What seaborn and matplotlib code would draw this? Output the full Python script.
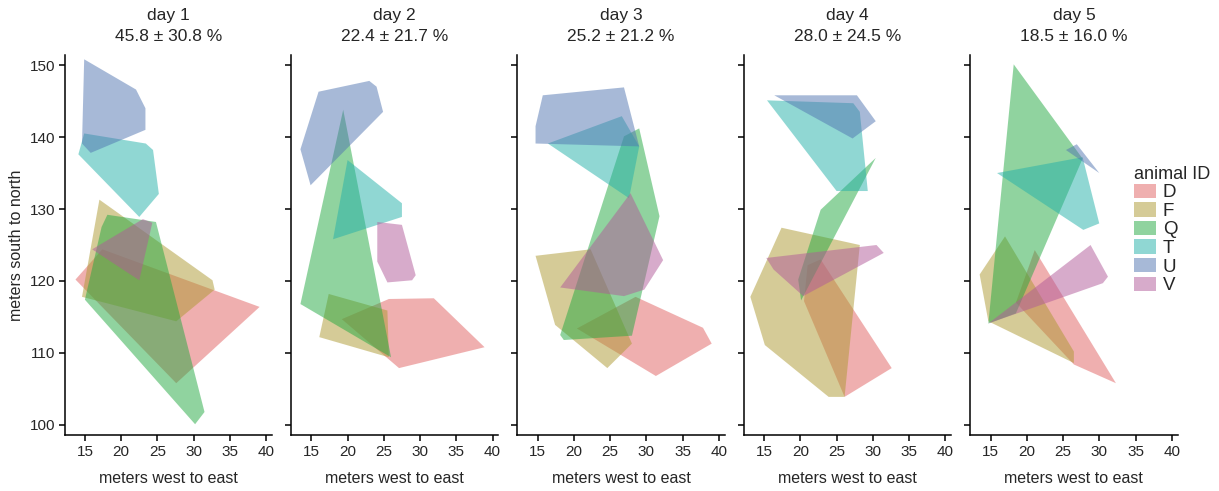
"""Home-range polygons per animal, one panel per tracking day."""
import matplotlib
matplotlib.use("Agg")
import matplotlib.pyplot as plt
import pandas as pd
import seaborn as sns

animals = ["D", "F", "Q", "T", "U", "V"]
colors = ["#e16161", "#ad9931", "#23a941", "#23b1a9", "#5175b1", "#b15999"]

days = [1, 2, 3, 4, 5]
day_mean = [45.8, 22.4, 25.2, 28.0, 18.5]
day_sd = [30.8, 21.7, 21.2, 24.5, 16.0]

# hull vertices (x = meters west to east, y = meters south to north)
day1 = {
    "D": [(13.7, 120.2), (17.4, 124.4), (39.1, 116.4), (27.6, 105.8)],
    "F": [(17.0, 131.3), (32.6, 120.1), (32.9, 118.8), (27.6, 114.4), (14.6, 117.8)],
    "Q": [(17.3, 127.5), (18.1, 129.2), (24.8, 128.2), (31.5, 101.8), (30.2, 100.1), (15.0, 117.4)],
    "T": [(14.1, 137.6), (14.9, 140.5), (23.4, 139.1), (24.4, 138.2), (25.2, 132.1), (22.5, 128.9)],
    "U": [(14.6, 139.1), (14.9, 150.8), (22.05, 146.6), (23.35, 144.0), (23.35, 141.0), (15.8, 137.8)],
    "V": [(16.0, 124.4), (23.0, 128.6), (24.3, 128.1), (22.5, 120.1)],
}
day2 = {
    "D": [(19.2, 114.7), (25.7, 117.5), (31.9, 117.6), (38.9, 110.8), (27.1, 107.9)],
    "F": [(17.4, 118.2), (25.5, 115.9), (25.7, 109.4), (16.1, 112.2)],
    "Q": [(19.4, 143.8), (26.0, 109.4), (13.5, 116.8)],
    "T": [(20.0, 136.8), (27.5, 130.8), (27.5, 128.9), (18.0, 125.8)],
    "U": [(13.5, 138.3), (16.0, 146.3), (23.0, 147.8), (24.0, 147.0), (24.9, 143.5), (14.9, 133.3)],
    "V": [(24.1, 128.2), (27.5, 127.8), (29.4, 120.8), (28.9, 120.1), (25.5, 119.8), (24.1, 122.7)],
}
day3 = {
    "D": [(20.4, 113.4), (28.5, 117.8), (37.8, 113.5), (39.0, 111.3), (31.3, 106.8)],
    "F": [(14.7, 123.5), (22.3, 124.4), (28.0, 111.3), (24.6, 107.9), (17.4, 113.9)],
    "Q": [(18.1, 112.5), (18.6, 111.8), (28.0, 112.4), (31.8, 129.0), (29.0, 141.2), (26.9, 140.1)],
    "T": [(16.4, 139.1), (26.6, 142.9), (29.0, 138.7), (27.6, 131.5)],
    "U": [(14.7, 139.1), (14.7, 141.5), (15.7, 145.8), (26.9, 146.9), (29.0, 138.7)],
    "V": [(18.1, 119.1), (27.8, 132.2), (32.3, 122.9), (29.7, 118.8), (26.9, 117.9)],
}
day4 = {
    "D": [(20.5, 117.2), (21.0, 122.2), (22.8, 123.0), (32.6, 107.9), (26.1, 103.9)],
    "F": [(13.1, 117.8), (17.4, 127.4), (28.2, 125.0), (26.1, 103.9), (23.9, 103.9), (15.1, 111.1)],
    "Q": [(30.4, 137.1), (22.8, 129.9), (19.7, 120.2), (20.1, 117.3)],
    "T": [(15.4, 145.1), (27.3, 144.7), (28.2, 143.5), (29.3, 132.5), (25.0, 132.5)],
    "U": [(16.4, 145.8), (27.8, 145.8), (30.4, 142.2), (27.2, 139.8)],
    "V": [(15.3, 123.2), (30.5, 125.0), (31.5, 123.9), (20.4, 117.9), (16.3, 121.6)],
}
day5 = {
    "D": [(21.1, 124.3), (32.3, 105.8), (26.5, 108.4), (18.5, 117.0)],
    "F": [(13.5, 120.9), (17.0, 126.2), (26.5, 110.2), (26.5, 108.6), (14.7, 114.4)],
    "Q": [(18.2, 150.1), (27.7, 137.0), (18.5, 115.5), (14.7, 114.1)],
    "T": [(15.9, 135.0), (27.7, 137.2), (30.0, 128.0), (27.8, 127.1)],
    "U": [(25.4, 138.2), (26.9, 139.0), (30.0, 135.0)],
    "V": [(14.7, 114.1), (28.8, 125.0), (31.2, 120.6), (30.5, 119.7)],
}

rows = []
for day, hulls in zip(days, [day1, day2, day3, day4, day5]):
    for animal, verts in hulls.items():
        for x, y in verts:
            rows.append({"day": day, "animal": animal, "x": x, "y": y})
df = pd.DataFrame(rows)

sns.set_style("ticks")
plt.rcParams["font.family"] = ["Liberation Sans", "DejaVu Sans"]
plt.rcParams["xtick.labelsize"] = 11
plt.rcParams["ytick.labelsize"] = 11
plt.rcParams["axes.labelsize"] = 11.5
plt.rcParams["axes.edgecolor"] = "black"
plt.rcParams["axes.linewidth"] = 1.1


def hull(x, y, color=None, label=None, **kws):
    plt.fill(x, y, color=color, alpha=0.5, lw=0, label=label)


g = sns.FacetGrid(df, col="day", hue="animal", hue_order=animals,
                  palette=colors, sharex=True, sharey=True, height=4, aspect=0.5)
g.map(hull, "x", "y")
g.set(xlim=(12.2, 40.8), ylim=(98.6, 151.4),
      xticks=[15, 20, 25, 30, 35, 40], yticks=[100, 110, 120, 130, 140, 150])
g.set_axis_labels("meters west to east", "meters south to north")
for ax, d, m, s in zip(g.axes.flat, days, day_mean, day_sd):
    ax.set_title(f"day {d}\n{m:.1f} ± {s:.1f} %", fontsize=12.5,
                 linespacing=1.55, pad=10)
    ax.tick_params(length=4.5, width=1.1, color="black", pad=2.5)
    ax.xaxis.labelpad = 9

g.add_legend(title="animal ID", loc="upper left", bbox_to_anchor=(0.924, 0.678),
             borderaxespad=0, fontsize=13.5,
             labelspacing=0.05, handlelength=1.2, handleheight=0.8,
             handletextpad=0.35, alignment="left")
g.legend.get_title().set_fontsize(13)

g.figure.set_size_inches(12.19, 4.91)
g.figure.subplots_adjust(left=0.053, right=0.966, top=0.888, bottom=0.114, wspace=0.092)
g.figure.savefig("out.png", dpi=100)
